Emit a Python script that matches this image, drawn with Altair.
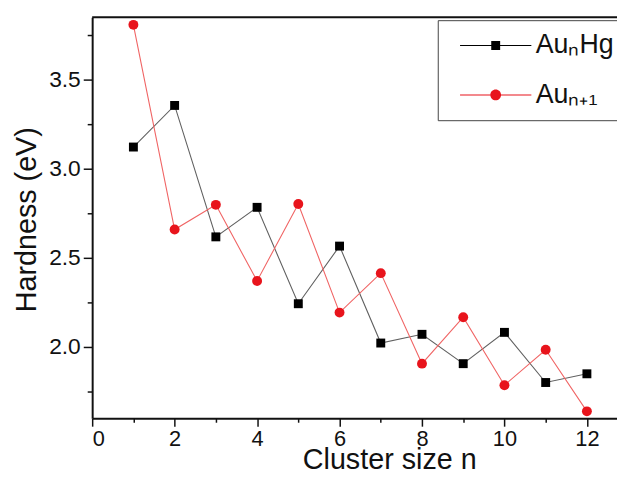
import altair as alt
import pandas as pd

# ---- data ----
cluster_n = list(range(1, 13))
hard_aunhg = [3.122, 3.356, 2.617, 2.783, 2.241, 2.565, 2.020, 2.069, 1.904, 2.080, 1.798, 1.847]
hard_aun1 = [3.809, 2.658, 2.797, 2.369, 2.802, 2.191, 2.413, 1.904, 2.165, 1.783, 1.982, 1.636]
series_names = ["AuₙHg", "Auₙ₊₁"]
x_tick_values = list(range(0, 13))
y_tick_values = [1.75, 2.0, 2.25, 2.5, 2.75, 3.0, 3.25, 3.5, 3.75]

df = pd.DataFrame({
    "n": cluster_n * 2,
    "h": hard_aunhg + hard_aun1,
    "s": [series_names[0]] * 12 + [series_names[1]] * 12,
})

FONT = "Liberation Sans"
X_DOM = [0, 12.73]
Y_DOM = [1.597, 3.852]

line_colors = ["#606060", "#f06464"]
marker_colors = ["#000000", "#e8141c"]

# legend symbols: a thin line with the marker in its middle
p_sq = "M-4,-0.06H4V0.06H-4ZM-0.5,-0.5H0.5V0.5H-0.5Z"
p_ci = "M-4,-0.06H4V0.06H-4ZM0.6,0A0.6,0.6,0,1,1,-0.6,0A0.6,0.6,0,1,1,0.6,0Z"

x_enc = alt.X(
    "n:Q",
    scale=alt.Scale(domain=X_DOM, nice=False, zero=False),
    axis=alt.Axis(
        title="Cluster size n",
        values=x_tick_values,
        labelExpr="datum.value % 2 == 0 ? datum.label : ''",
        tickSize={"condition": {"test": "datum.value % 2 != 0", "value": 4}, "value": 8},
        labelPadding=3,
        labelFontSize=22,
        titleX=300,
        titleY=51,
        titleBaseline="alphabetic",
    ),
)
y_enc = alt.Y(
    "h:Q",
    scale=alt.Scale(domain=Y_DOM, nice=False, zero=False),
    axis=alt.Axis(
        title="Hardness (eV)",
        values=y_tick_values,
        format=".1f",
        labelExpr="abs(round(datum.value*2) - datum.value*2) < 0.001 ? datum.label : ''",
        tickSize={"condition": {"test": "abs(round(datum.value*2) - datum.value*2) > 0.001", "value": 5}, "value": 9},
        labelPadding=3,
        titleX=-57,
        titleY=204,
        titleBaseline="alphabetic",
    ),
)

base = alt.Chart(df)

lines = base.mark_line(strokeWidth=1.1).encode(
    x=x_enc,
    y=y_enc,
    color=alt.Color("s:N", scale=alt.Scale(domain=series_names, range=line_colors), legend=None),
)

points = base.mark_point(filled=True, opacity=1, strokeWidth=0).encode(
    x=alt.X("n:Q"),
    y=alt.Y("h:Q"),
    color=alt.Color("s:N", scale=alt.Scale(domain=series_names, range=marker_colors), legend=None),
    shape=alt.Shape("s:N", scale=alt.Scale(domain=series_names, range=["square", "circle"]), legend=None),
    size=alt.Size("s:N", scale=alt.Scale(domain=series_names, range=[81, 100]), legend=None),
)

leg = alt.Legend(
    title=None,
    orient="none",
    legendX=349,
    legendY=3,
    strokeColor="#444444",
    padding=12,
    labelFont=FONT,
    labelFontSize=27,
    labelColor="#111111",
    symbolSize=324,
    symbolStrokeWidth=0,
    symbolOpacity=1,
    symbolOffset=33,
    rowPadding=22,
    labelOffset=27,
)

legend_layer = base.transform_filter("false").mark_point(filled=True).encode(
    x=alt.X("n:Q"),
    y=alt.Y("h:Q"),
    color=alt.Color("s:N", scale=alt.Scale(domain=series_names, range=marker_colors), legend=leg),
    shape=alt.Shape("s:N", scale=alt.Scale(domain=series_names, range=[p_sq, p_ci]), legend=leg),
)

top_line = alt.Chart(pd.DataFrame({"t": [Y_DOM[1]]})).mark_rule(color="#111111", strokeWidth=2).encode(
    y=alt.Y("t:Q")
)

chart = alt.layer(lines, points, legend_layer, top_line).resolve_scale(
    color="independent", shape="independent"
).properties(
    width=530,
    height=405,
    padding={"left": 85, "top": 7, "right": 0, "bottom": 56},
    autosize=alt.AutoSizeParams(type="none"),
).configure_view(stroke=None).configure_axis(
    labelFont=FONT,
    labelFontSize=23,
    labelColor="#111111",
    titleFont=FONT,
    titleFontSize=29,
    titleFontWeight="normal",
    titleColor="#111111",
    domainColor="#111111",
    domainWidth=2,
    tickColor="#111111",
    tickWidth=1.5,
    grid=False,
)

chart.save("out.html", embed_options={"renderer": "svg", "actions": False})
